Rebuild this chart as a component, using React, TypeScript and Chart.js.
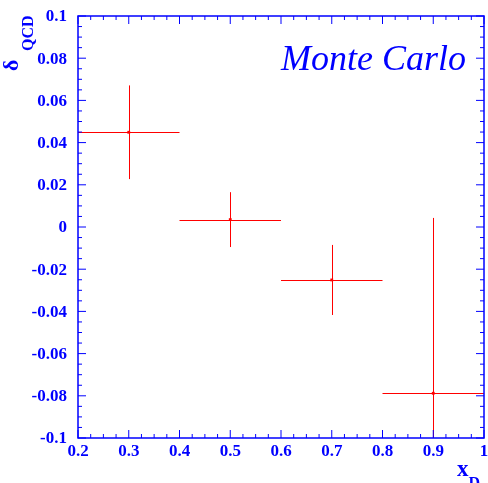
import React, { useEffect, useRef } from "react";
import { Chart, registerables } from "chart.js";

Chart.register(...registerables);

const xValues = [0.3, 0.5, 0.7, 0.9];
const yValues = [0.0449, 0.0035, -0.0251, -0.0788];
const xErrors = [0.1, 0.1, 0.1, 0.1];
const yErrors = [0.0222, 0.013, 0.0166, 0.0831];

const xTickValues = [0.2, 0.3, 0.4, 0.5, 0.6, 0.7, 0.8, 0.9, 1.0];
const xTickLabels = ["0.2", "0.3", "0.4", "0.5", "0.6", "0.7", "0.8", "0.9", "1"];
const yTickValues = [-0.1, -0.08, -0.06, -0.04, -0.02, 0, 0.02, 0.04, 0.06, 0.08, 0.1];
const yTickLabels = ["-0.1", "-0.08", "-0.06", "-0.04", "-0.02", "0", "0.02", "0.04", "0.06", "0.08", "0.1"];
const minorDivisions = 4;

const BLUE = "#0000ff";
const RED = "#ff0000";

const errorBarPlugin = {
  id: "errorBars",
  beforeDatasetsDraw(chart: any) {
    const { ctx, chartArea, scales } = chart;
    const xs = scales.x;
    const ys = scales.y;
    ctx.save();
    ctx.beginPath();
    ctx.rect(chartArea.left, chartArea.top, chartArea.right - chartArea.left, chartArea.bottom - chartArea.top);
    ctx.clip();
    ctx.strokeStyle = RED;
    ctx.lineWidth = 1;
    for (let i = 0; i < xValues.length; i++) {
      const px = Math.round(xs.getPixelForValue(xValues[i])) + 0.5;
      const py = Math.round(ys.getPixelForValue(yValues[i])) + 0.5;
      const x1 = xs.getPixelForValue(xValues[i] - xErrors[i]);
      const x2 = xs.getPixelForValue(xValues[i] + xErrors[i]);
      const y1 = ys.getPixelForValue(yValues[i] + yErrors[i]);
      const y2 = ys.getPixelForValue(yValues[i] - yErrors[i]);
      ctx.beginPath();
      ctx.moveTo(x1, py);
      ctx.lineTo(x2, py);
      ctx.moveTo(px, y1);
      ctx.lineTo(px, y2);
      ctx.stroke();
    }
    ctx.restore();
  },
};

const framePlugin = {
  id: "frameAxes",
  afterDraw(chart: any) {
    const { ctx, chartArea, scales } = chart;
    const xs = scales.x;
    const ys = scales.y;
    const { left, right, top, bottom } = chartArea;
    ctx.save();
    ctx.strokeStyle = BLUE;
    ctx.lineWidth = 1.5;
    ctx.strokeRect(left, top, right - left, bottom - top);

    ctx.lineWidth = 1;
    const major = 8;
    const minor = 4;
    for (let i = 0; i < xTickValues.length; i++) {
      const v = xTickValues[i];
      const p = xs.getPixelForValue(v);
      ctx.beginPath();
      ctx.moveTo(p, bottom);
      ctx.lineTo(p, bottom - major);
      ctx.moveTo(p, top);
      ctx.lineTo(p, top + major);
      ctx.stroke();
      if (i < xTickValues.length - 1) {
        const step = (xTickValues[i + 1] - v) / minorDivisions;
        for (let k = 1; k < minorDivisions; k++) {
          const mp = xs.getPixelForValue(v + step * k);
          ctx.beginPath();
          ctx.moveTo(mp, bottom);
          ctx.lineTo(mp, bottom - minor);
          ctx.moveTo(mp, top);
          ctx.lineTo(mp, top + minor);
          ctx.stroke();
        }
      }
    }
    for (let i = 0; i < yTickValues.length; i++) {
      const v = yTickValues[i];
      const p = ys.getPixelForValue(v);
      ctx.beginPath();
      ctx.moveTo(left, p);
      ctx.lineTo(left + major, p);
      ctx.moveTo(right, p);
      ctx.lineTo(right - major, p);
      ctx.stroke();
      if (i < yTickValues.length - 1) {
        const step = (yTickValues[i + 1] - v) / minorDivisions;
        for (let k = 1; k < minorDivisions; k++) {
          const mp = ys.getPixelForValue(v + step * k);
          ctx.beginPath();
          ctx.moveTo(left, mp);
          ctx.lineTo(left + minor, mp);
          ctx.moveTo(right, mp);
          ctx.lineTo(right - minor, mp);
          ctx.stroke();
        }
      }
    }

    ctx.fillStyle = BLUE;
    ctx.font = "bold 17px 'Liberation Serif', serif";
    ctx.textAlign = "right";
    ctx.textBaseline = "middle";
    for (let i = 0; i < yTickValues.length; i++) {
      const p = ys.getPixelForValue(yTickValues[i]);
      ctx.fillText(yTickLabels[i], left - 11, p + 1);
    }
    ctx.textAlign = "center";
    ctx.textBaseline = "top";
    for (let i = 0; i < xTickValues.length; i++) {
      const p = xs.getPixelForValue(xTickValues[i]);
      ctx.fillText(xTickLabels[i], p, bottom + 5);
    }

    // y title: delta_QCD rotated
    ctx.save();
    ctx.translate(18, 71);
    ctx.rotate(-Math.PI / 2);
    ctx.textAlign = "left";
    ctx.textBaseline = "alphabetic";
    ctx.font = "bold 22px 'Liberation Serif', serif";
    ctx.fillText("δ", 0, 0);
    ctx.font = "bold 16px 'Liberation Serif', serif";
    ctx.fillText("QCD", 20, 15);
    ctx.restore();

    // x title: x_D
    ctx.textAlign = "left";
    ctx.textBaseline = "alphabetic";
    ctx.font = "bold 23px 'Liberation Serif', serif";
    ctx.fillText("x", 457, 476);
    const xw = ctx.measureText("x").width;
    ctx.font = "bold 16px 'Liberation Serif', serif";
    ctx.fillText("D", 457 + xw, 488);

    ctx.font = "italic 36px 'Liberation Serif', serif";
    ctx.textAlign = "right";
    ctx.fillText("Monte Carlo", 466, 70);
    ctx.restore();
  },
};

export default function App() {
  const canvasRef = useRef<HTMLCanvasElement | null>(null);

  useEffect(() => {
    document.body.style.margin = "0";
    document.body.style.overflow = "hidden";
    const canvas = canvasRef.current;
    if (!canvas) return;
    const chart = new Chart(canvas, {
      type: "scatter",
      data: {
        datasets: [
          {
            data: xValues.map((x, i) => ({ x, y: yValues[i] })),
            backgroundColor: RED,
            borderColor: RED,
            pointStyle: "rect",
            pointRadius: 2,
            borderWidth: 0,
          },
        ],
      },
      options: {
        responsive: false,
        animation: false,
        devicePixelRatio: 1,
        layout: { padding: { left: 78, right: 2, top: 16, bottom: 45 } },
        plugins: { legend: { display: false }, tooltip: { enabled: false } },
        scales: {
          x: { type: "linear", min: 0.2, max: 1, display: false },
          y: { type: "linear", min: -0.1, max: 0.1, display: false },
        },
      },
      plugins: [errorBarPlugin, framePlugin],
    });
    return () => chart.destroy();
  }, []);

  return (
    <div style={{ width: 488, height: 483, background: "#fff" }}>
      <canvas ref={canvasRef} width={488} height={483} style={{ display: "block" }} />
    </div>
  );
}
